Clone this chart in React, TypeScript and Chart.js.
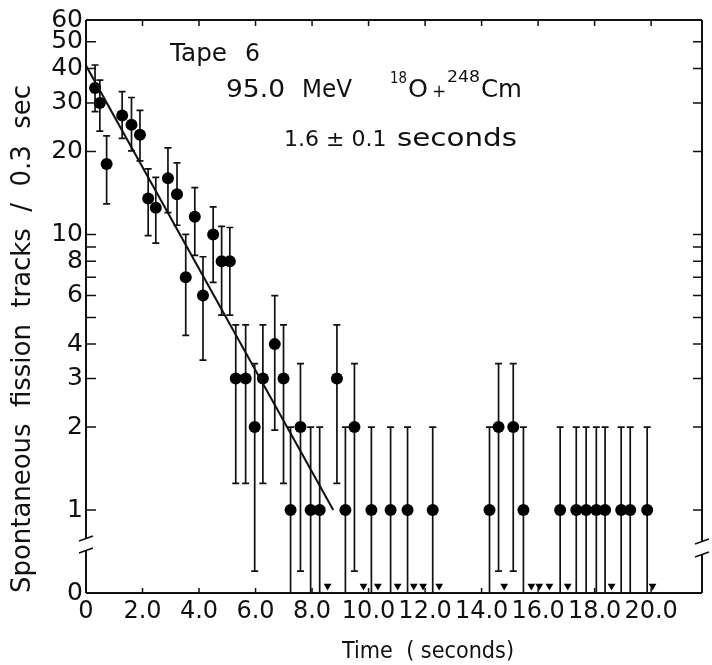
import React, { useEffect, useRef } from "react";
import { Chart, registerables } from "chart.js";

Chart.register(...registerables);

const FONT = '"DejaVu Sans", sans-serif';

// Measured points (time in s, tracks per 0.3 s)
const pointTimes = [0.32, 0.49, 0.73, 1.28, 1.61, 1.91, 2.2, 2.47, 2.9, 3.22, 3.53, 3.85, 4.14, 4.5, 4.8, 5.09,
  5.3, 5.65, 5.97, 6.26, 6.68, 6.99, 7.24, 7.59, 7.95, 8.27, 8.88, 9.18, 9.5,
  10.1, 10.78, 11.38, 12.27, 14.28, 14.6, 15.12, 15.48, 16.78, 17.35, 17.7, 18.06, 18.37, 18.94, 19.26, 19.86];
const pointCounts = [34, 30, 18, 27, 25, 23, 13.5, 12.5, 16, 14, 7, 11.6, 6, 10, 8, 8,
  3, 3, 2, 3, 4, 3, 1, 2, 1, 1, 3, 1, 2,
  1, 1, 1, 1, 1, 2, 2, 1, 1, 1, 1, 1, 1, 1, 1, 1];
const errHigh = [41.2, 36.3, 22.8, 33, 31.4, 28.2, 17.3, 16.1, 20.6, 18.2, 10, 14.8, 8.3, 12.6, 10.7, 10.6,
  4.7, 4.7, 3.4, 4.7, 6, 4.7, 2, 3.4, 2, 2, 4.7, 2, 3.4,
  2, 2, 2, 2, 2, 3.4, 3.4, 2, 2, 2, 2, 2, 2, 2, 2, 2];
const errLow = [27.9, 23.7, 12.9, 22.3, 20.1, 18.5, 9.9, 9.3, 12, 10.8, 4.3, 8.4, 3.5, 6.7, 5.1, 5.1,
  1.25, 1.25, 0.6, 1.25, 1.95, 1.25, 0, 0.6, 0, 0, 1.25, 0, 0.6,
  0, 0, 0, 0, 0, 0.6, 0.6, 0, 0, 0, 0, 0, 0, 0, 0, 0];

// Bins with zero tracks (arrows on the baseline)
const zeroTimes = [8.55, 9.82, 10.33, 11.03, 11.6, 11.93, 12.5, 14.8, 15.76, 16.04, 16.4, 17.05, 18.6, 20.05];
const zeroLevel = 0.53;

// Fitted decay line (1.6 s half-life)
const fitTimes = [0, 8.75];
const fitCounts = [41, 1];

// Axes
const xTickValues = [0, 2, 4, 6, 8, 10, 12, 14, 16, 18, 20];
const xTickLabels = ["0", "2.0", "4.0", "6.0", "8.0", "10.0", "12.0", "14.0", "16.0", "18.0", "20.0"];
const yTickValues = [0.5, 1, 2, 3, 4, 5, 6, 7, 8, 9, 10, 20, 30, 40, 50, 60];
const yTickLabels = ["0", "1", "2", "3", "4", "", "6", "", "8", "", "10", "20", "30", "40", "50", "60"];
const yMarkValues = [1, 2, 3, 4, 5, 6, 7, 8, 9, 10, 20, 30, 40, 50];
const xMarkValues = [2, 4, 6, 8, 10, 12, 14, 16, 18, 20];

const xTitle = "Time  ( seconds)";
const yTitle = "Spontaneous  fission  tracks  /  0.3  sec";

function fitText(ctx: CanvasRenderingContext2D, text: string, x: number, y: number, width: number, size: number) {
  ctx.save();
  ctx.font = `${size}px ${FONT}`;
  const w = ctx.measureText(text).width;
  ctx.translate(x, y);
  ctx.scale(width / w, 1);
  ctx.textAlign = "left";
  ctx.textBaseline = "alphabetic";
  ctx.fillText(text, 0, 0);
  ctx.restore();
}

function plainText(ctx: CanvasRenderingContext2D, text: string, x: number, y: number, size: number) {
  ctx.save();
  ctx.font = `${size}px ${FONT}`;
  ctx.textAlign = "left";
  ctx.textBaseline = "alphabetic";
  ctx.fillText(text, x, y);
  ctx.restore();
}

const decorPlugin = {
  id: "decor",
  beforeDatasetsDraw(chart: any) {
    const ctx = chart.ctx as CanvasRenderingContext2D;
    const xs = chart.scales.x;
    const ys = chart.scales.y;
    const bottom = chart.chartArea.bottom;
    ctx.save();
    ctx.strokeStyle = "#111";
    ctx.lineWidth = 1.7;
    for (let i = 0; i < pointTimes.length; i++) {
      const px = xs.getPixelForValue(pointTimes[i]);
      const top = ys.getPixelForValue(errHigh[i]);
      const low = errLow[i] > 0 ? ys.getPixelForValue(errLow[i]) : bottom;
      ctx.beginPath();
      ctx.moveTo(px, top);
      ctx.lineTo(px, low);
      ctx.moveTo(px - 3.5, top);
      ctx.lineTo(px + 3.5, top);
      if (errLow[i] > 0) {
        ctx.moveTo(px - 3.5, low);
        ctx.lineTo(px + 3.5, low);
      }
      ctx.stroke();
    }
    ctx.restore();
  },
  afterDraw(chart: any) {
    const ctx = chart.ctx as CanvasRenderingContext2D;
    const { left, right, top, bottom } = chart.chartArea;
    const xs = chart.scales.x;
    const ys = chart.scales.y;
    ctx.save();
    ctx.strokeStyle = "#111";
    ctx.fillStyle = "#111";
    ctx.lineWidth = 2;
    // frame with broken vertical axes
    ctx.beginPath();
    ctx.moveTo(left, top);
    ctx.lineTo(right, top);
    ctx.moveTo(left, bottom);
    ctx.lineTo(right, bottom);
    ctx.moveTo(left, top);
    ctx.lineTo(left, 538);
    ctx.moveTo(left, 551);
    ctx.lineTo(left, bottom);
    ctx.moveTo(right, top);
    ctx.lineTo(right, 541);
    ctx.moveTo(right, 555);
    ctx.lineTo(right, bottom);
    ctx.stroke();
    ctx.lineWidth = 1.6;
    ctx.beginPath();
    ctx.moveTo(left - 7, 541);
    ctx.lineTo(left + 7, 536);
    ctx.moveTo(left - 7, 553);
    ctx.lineTo(left + 7, 548);
    ctx.moveTo(right - 7, 544);
    ctx.lineTo(right + 7, 539);
    ctx.moveTo(right - 7, 557);
    ctx.lineTo(right + 7, 552);
    ctx.stroke();
    // inward tick marks
    ctx.lineWidth = 1.5;
    ctx.beginPath();
    for (const v of yMarkValues) {
      const py = ys.getPixelForValue(v);
      ctx.moveTo(left, py);
      ctx.lineTo(left + 10, py);
      ctx.moveTo(right, py);
      ctx.lineTo(right - 9, py);
    }
    for (const v of xMarkValues) {
      const px = xs.getPixelForValue(v);
      ctx.moveTo(px, bottom);
      ctx.lineTo(px, bottom - 5);
      ctx.moveTo(px, top);
      ctx.lineTo(px, top + 6);
    }
    ctx.stroke();

    // titles
    fitText(ctx, xTitle, 342, 658, 172, 23);
    ctx.save();
    ctx.translate(30, 593);
    ctx.rotate(-Math.PI / 2);
    fitText(ctx, yTitle, 0, 0, 508, 27);
    ctx.restore();

    // annotations
    fitText(ctx, "Tape", 170, 61, 57, 24);
    fitText(ctx, "6", 245, 61, 15, 24);
    fitText(ctx, "95.0", 226, 97, 59, 24);
    fitText(ctx, "MeV", 302, 97, 50, 24);
    fitText(ctx, "18", 390, 83, 17, 15);
    fitText(ctx, "O", 408, 97, 20, 24);
    plainText(ctx, "+", 432, 97, 17);
    fitText(ctx, "248", 447, 82, 33, 15);
    fitText(ctx, "Cm", 481, 97, 41, 24);
    plainText(ctx, "1.6 \u00b1 0.1", 284, 146, 22);
    fitText(ctx, "seconds", 397, 146, 120, 24);
    ctx.restore();
  },
};

export default function App() {
  const ref = useRef<HTMLCanvasElement | null>(null);
  useEffect(() => {
    if (!ref.current) return;
    const chart = new Chart(ref.current, {
      type: "scatter",
      data: {
        datasets: [
          {
            type: "line",
            label: "fit",
            data: fitTimes.map((t, i) => ({ x: t, y: fitCounts[i] })),
            borderColor: "#111",
            borderWidth: 2,
            pointRadius: 0,
            fill: false,
          } as any,
          {
            label: "counts",
            data: pointTimes.map((t, i) => ({ x: t, y: pointCounts[i] })),
            backgroundColor: "#000",
            borderColor: "#000",
            pointRadius: 6,
            borderWidth: 0,
          },
          {
            label: "zero",
            data: zeroTimes.map((t) => ({ x: t, y: zeroLevel })),
            backgroundColor: "#000",
            borderColor: "#000",
            pointStyle: "triangle",
            rotation: 180,
            pointRadius: 4.5,
            borderWidth: 0,
          },
        ],
      },
      options: {
        animation: false,
        responsive: true,
        maintainAspectRatio: false,
        layout: { padding: { top: 20, right: 10, left: 0, bottom: 0 } },
        plugins: { legend: { display: false }, tooltip: { enabled: false } },
        scales: {
          x: {
            type: "linear",
            min: 0,
            max: 21.8,
            afterBuildTicks: (s: any) => {
              s.ticks = xTickValues.map((v) => ({ value: v }));
            },
            afterFit: (s: any) => {
              s.height = 72;
            },
            ticks: {
              autoSkip: false,
              maxRotation: 0,
              padding: 4,
              color: "#111",
              font: { family: FONT, size: 24 },
              callback: (v: any) => {
                const i = xTickValues.indexOf(Number(v));
                return i >= 0 ? xTickLabels[i] : "";
              },
            },
            grid: { display: false, drawTicks: false },
            border: { display: false },
          },
          y: {
            type: "logarithmic",
            min: 0.5,
            max: 60,
            afterBuildTicks: (s: any) => {
              s.ticks = yTickValues.map((v) => ({ value: v }));
            },
            afterFit: (s: any) => {
              s.width = 86;
            },
            ticks: {
              autoSkip: false,
              padding: 3,
              color: "#111",
              font: { family: FONT, size: 25 },
              callback: (v: any) => {
                const i = yTickValues.indexOf(Number(v));
                return i >= 0 ? yTickLabels[i] : "";
              },
            },
            grid: { display: false, drawTicks: false },
            border: { display: false },
          },
        },
      },
      plugins: [decorPlugin],
    });
    return () => chart.destroy();
  }, []);
  return (
    <div style={{ position: "fixed", left: 0, top: 0, width: 712, height: 665, background: "#fff" }}>
      <canvas ref={ref} />
    </div>
  );
}
